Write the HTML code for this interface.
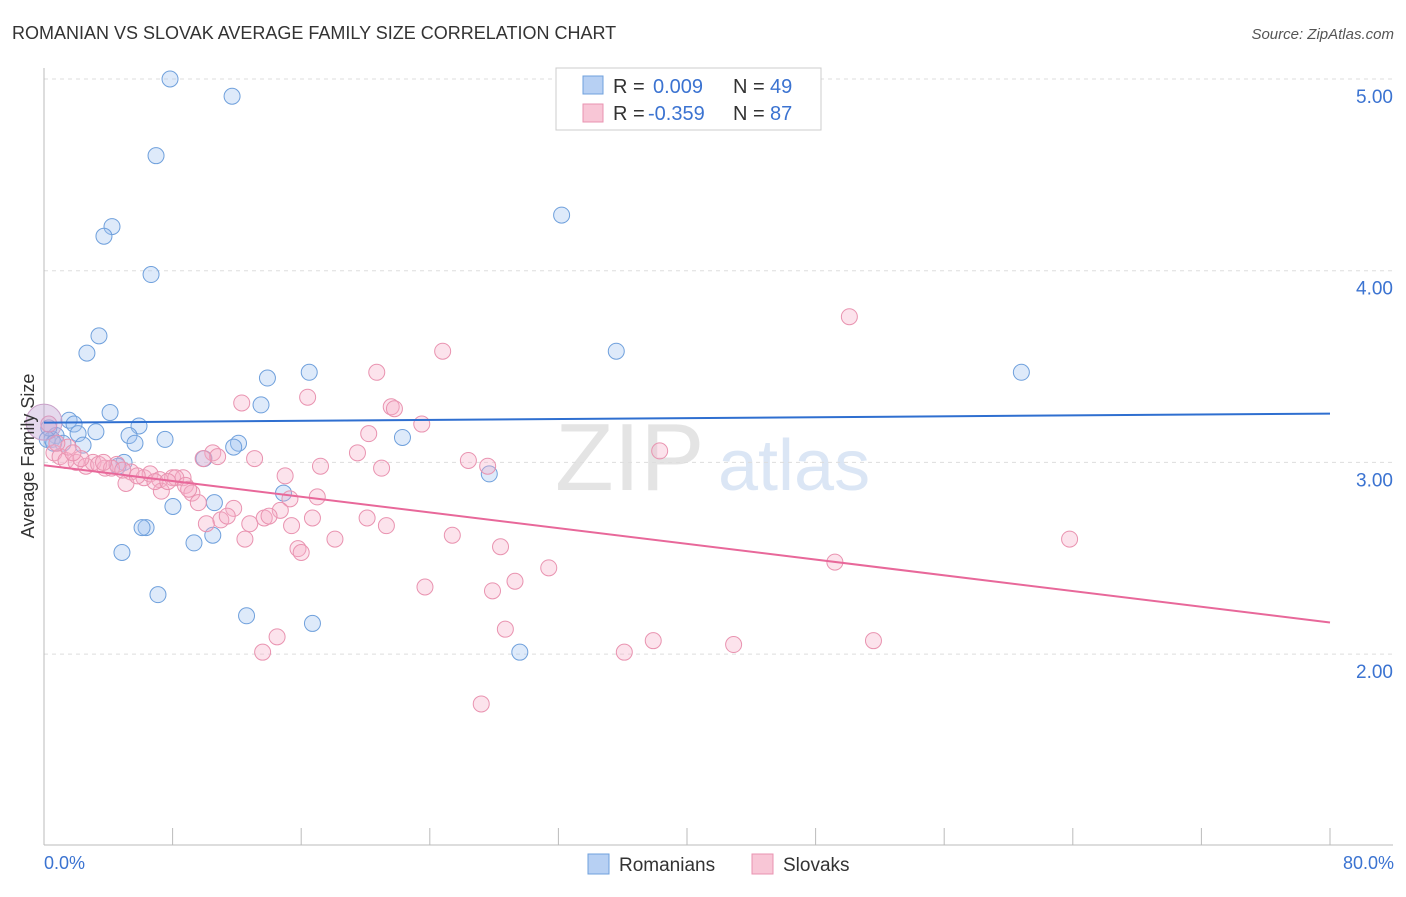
<!DOCTYPE html>
<html><head><meta charset="utf-8">
<style>
body{margin:0;background:#fff;font-family:"Liberation Sans",sans-serif;}
svg text{font-family:"Liberation Sans",sans-serif;}
</style></head>
<body>
<svg id="chart" width="1406" height="892" xmlns="http://www.w3.org/2000/svg">
<text x="12" y="39" font-size="18" fill="#333">ROMANIAN VS SLOVAK AVERAGE FAMILY SIZE CORRELATION CHART</text>
<text x="1394" y="39" font-size="15" fill="#555" font-style="italic" text-anchor="end">Source: ZipAtlas.com</text>
<text x="555" y="490" font-size="96" fill="#e4e4e4" font-family="Liberation Serif">ZIP</text>
<text x="718" y="490" font-size="72" fill="#dbe6f5">atlas</text>
<g id="grid"></g>
<g id="axes"></g>
<g id="pts"></g>
<g id="lines"></g>
<text transform="translate(34,456) rotate(-90)" font-size="18" fill="#333" text-anchor="middle">Average Family Size</text>
<text x="44" y="869" font-size="18" fill="#3b73d1">0.0%</text>
<text x="1394" y="869" font-size="18" fill="#3b73d1" text-anchor="end">80.0%</text>
<g>
<rect x="556" y="68" width="265" height="62" fill="#fff" stroke="#ccc"/>
<rect x="583" y="76" width="20" height="18" fill="#b7d0f3" stroke="#6fa0dc"/>
<rect x="583" y="104" width="20" height="18" fill="#f8c6d6" stroke="#e993b0"/>
<text x="613" y="93" font-size="20" fill="#333">R =</text>
<text x="653" y="93" font-size="20" fill="#3b73d1">0.009</text>
<text x="733" y="93" font-size="20" fill="#333">N =</text>
<text x="770" y="93" font-size="20" fill="#3b73d1">49</text>
<text x="613" y="120" font-size="20" fill="#333">R =</text>
<text x="648" y="120" font-size="20" fill="#3b73d1">-0.359</text>
<text x="733" y="120" font-size="20" fill="#333">N =</text>
<text x="770" y="120" font-size="20" fill="#3b73d1">87</text>
</g>
<g>
<rect x="588" y="854" width="21" height="20" fill="#b7d0f3" stroke="#6fa0dc"/>
<text x="619" y="871" font-size="19" fill="#333">Romanians</text>
<rect x="752" y="854" width="21" height="20" fill="#f8c6d6" stroke="#e993b0"/>
<text x="783" y="871" font-size="19" fill="#333">Slovaks</text>
</g>
</svg>
<script>
const yTicks=[2,3,4,5];
const yTickLabels=["2.00","3.00","4.00","5.00"];
const blueX=[7.84,11.7,6.97,32.2,4.23,3.73,6.66,3.42,2.67,35.6,60.8,13.9,16.5,13.5,4.11,1.56,1.87,5.91,3.23,2.12,0.75,0.5,5.29,5.66,7.53,12.1,11.8,22.3,2.43,1.18,4.98,4.6,9.95,27.7,14.9,10.6,8.02,10.5,9.33,6.35,6.1,4.85,7.09,12.6,16.7,29.6,0.3,0.2,0.6];
const blueY=[5.0,4.91,4.6,4.29,4.23,4.18,3.98,3.66,3.57,3.58,3.47,3.44,3.47,3.3,3.26,3.22,3.2,3.19,3.16,3.15,3.14,3.12,3.14,3.1,3.12,3.1,3.08,3.13,3.09,3.1,3.0,2.98,3.02,2.94,2.84,2.79,2.77,2.62,2.58,2.66,2.66,2.53,2.31,2.2,2.16,2.01,3.18,3.12,3.1];
const pinkX=[50.1,24.8,20.7,16.4,12.3,21.6,21.8,23.5,20.2,38.3,19.5,10.5,10.8,26.4,13.1,17.2,21.0,27.6,15.0,0.62,1.0,1.37,2.0,2.61,3.05,3.8,4.54,5.41,6.22,6.6,5.1,7.2,8.0,8.65,8.2,8.8,7.3,9.2,9.6,15.3,17.0,11.8,14.7,11.0,11.4,13.7,14.0,16.7,10.1,12.8,15.4,20.1,21.3,12.5,18.1,25.4,15.8,16.0,28.4,63.8,49.2,31.4,29.3,27.9,23.7,28.7,14.5,37.9,51.6,42.9,13.6,36.1,27.2,0.3,1.5,2.3,3.4,4.2,5.8,6.9,9.0,0.8,1.8,3.7,4.9,7.7,9.9];
const pinkY=[3.76,3.58,3.47,3.34,3.31,3.29,3.28,3.2,3.15,3.06,3.05,3.05,3.03,3.01,3.02,2.98,2.97,2.98,2.93,3.05,3.03,3.01,3.0,2.98,3.0,2.97,2.99,2.95,2.92,2.94,2.89,2.91,2.92,2.92,2.92,2.88,2.85,2.84,2.79,2.81,2.82,2.76,2.75,2.7,2.72,2.71,2.72,2.71,2.68,2.68,2.67,2.71,2.67,2.6,2.6,2.62,2.55,2.53,2.56,2.6,2.48,2.45,2.38,2.33,2.35,2.13,2.09,2.07,2.07,2.05,2.01,2.01,1.74,3.2,3.08,3.02,2.99,2.97,2.93,2.9,2.86,3.1,3.05,3.0,2.96,2.9,3.02];
const NS="http://www.w3.org/2000/svg";
const sx=v=>44+v*(1286/80);
const sy=v=>79+(5-v)*191.7;
function mk(tag,attrs,parent){const e=document.createElementNS(NS,tag);for(const k in attrs)e.setAttribute(k,attrs[k]);document.getElementById(parent).appendChild(e);return e;}
yTicks.forEach((t,i)=>{
 const l=mk('line',{x1:44,x2:1393,y1:sy(t),y2:sy(t),stroke:'#ddd','stroke-dasharray':'4,4'},'grid');
 
 
 const tx=mk('text',{x:1393,y:sy(t)+24,'font-size':19,fill:'#3b73d1','text-anchor':'end'},'grid');
 tx.textContent=yTickLabels[i];
 
 
});
let a=mk('line',{x1:44,x2:44,y1:68,y2:845,stroke:'#bbb'},'axes');


a=mk('line',{x1:44,x2:1393,y1:845,y2:845,stroke:'#bbb'},'axes');


for(let i=0;i<=10;i++){const t=mk('line',{x1:sx(i*8),x2:sx(i*8),y1:828,y2:845,stroke:'#bbb'},'axes');
 
 }
function series(X,Y,fill,stroke,name){X.forEach((x,i)=>{const c=mk('circle',{cx:sx(x),cy:sy(Y[i]),r:8,fill:fill,stroke:stroke,'stroke-width':1},'pts');
 
 });}
series(blueX,blueY,'rgba(160,195,240,0.35)','#6fa0dc','romanian-point');
series(pinkX,pinkY,'rgba(245,175,200,0.35)','#e993b0','slovak-point');
const big=mk('circle',{cx:44,cy:sy(3.21),r:18,fill:'rgba(190,160,210,0.4)',stroke:'#c9a0c8'},'pts');


function fit(X,Y){const n=X.length;let mx=0,my=0;X.forEach((x,i)=>{mx+=x;my+=Y[i];});mx/=n;my/=n;let sxy=0,sxx=0;X.forEach((x,i)=>{sxy+=(x-mx)*(Y[i]-my);sxx+=(x-mx)*(x-mx);});const b=sxy/sxx;return [my-b*mx,b];}
function trend(X,Y,col,name){const [a0,b]=fit(X,Y);const l=mk('line',{x1:sx(0),y1:sy(a0),x2:sx(80),y2:sy(a0+b*80),stroke:col,'stroke-width':2},'lines');
 
 }
trend(blueX,blueY,'#2f6fd0','romanian-trendline');
trend(pinkX,pinkY,'#e8689a','slovak-trendline');
</script>
</body></html>
